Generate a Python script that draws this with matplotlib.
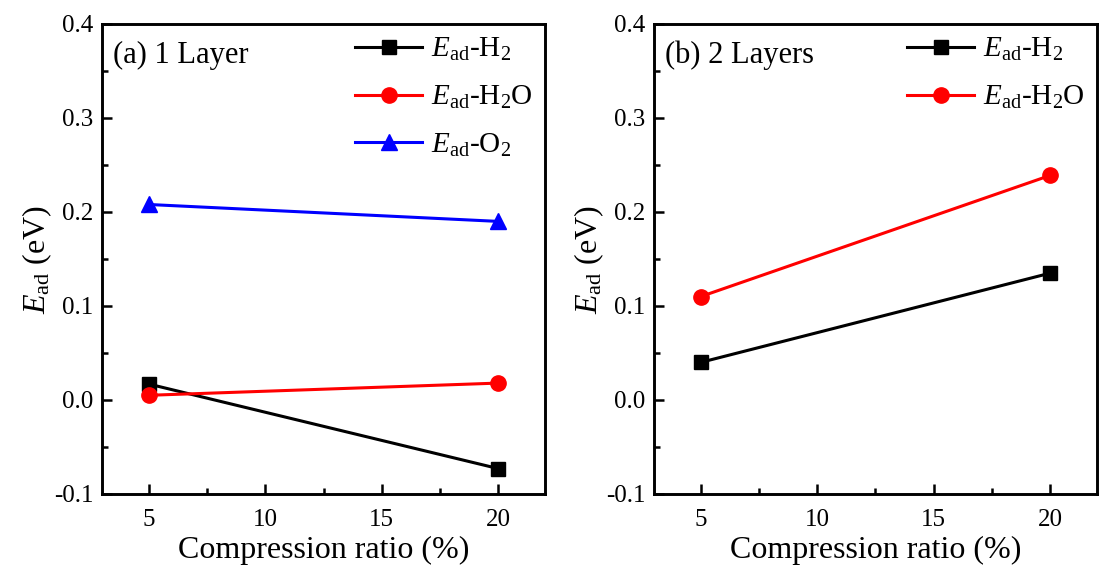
import numpy as np
import matplotlib
matplotlib.use("Agg")
import matplotlib.pyplot as plt
from matplotlib.ticker import MultipleLocator

plt.rcParams['font.family'] = ['Liberation Serif', 'DejaVu Serif']
plt.rcParams['mathtext.fontset'] = 'custom'
plt.rcParams['mathtext.rm'] = 'Liberation Serif'
plt.rcParams['mathtext.it'] = 'Liberation Serif:italic'

# data
ratio = [5, 20]
a_h2 = [0.017, -0.073]
a_h2o = [0.005, 0.018]
a_o2 = [0.208, 0.190]
b_h2 = [0.040, 0.135]
b_h2o = [0.110, 0.239]

lab_h2 = r'$E_{\mathrm{ad}}$-H$_2$'
lab_h2o = r'$E_{\mathrm{ad}}$-H$_2$O'
lab_o2 = r'$E_{\mathrm{ad}}$-O$_2$'

W, H = 1099, 568
fig = plt.figure(figsize=(W / 100, H / 100), dpi=100)
ax1 = fig.add_axes([102 / W, 1 - 494 / H, 443 / W, 470 / H])
ax2 = fig.add_axes([654 / W, 1 - 494 / H, 443 / W, 470 / H])

ax1.plot(ratio, a_h2, color='black', marker='s', ms=10, lw=2.2, label=lab_h2)
ax1.plot(ratio, a_h2o, color='red', marker='o', ms=11, lw=2.2, label=lab_h2o)
ax1.plot(ratio, a_o2, color='blue', marker='^', ms=11, lw=2.2, label=lab_o2)

ax2.plot(ratio, b_h2, color='black', marker='s', ms=10, lw=2.2, label=lab_h2)
ax2.plot(ratio, b_h2o, color='red', marker='o', ms=11, lw=2.2, label=lab_h2o)

for ax, title in [(ax1, '(a) 1 Layer'), (ax2, '(b) 2 Layers')]:
    ax.set_xlim(3, 22)
    ax.set_ylim(-0.1, 0.4)
    ax.xaxis.set_minor_locator(MultipleLocator(2.5))
    ax.yaxis.set_minor_locator(MultipleLocator(0.05))
    ax.set_xticks([5, 10, 15, 20])
    ax.set_yticks([-0.1, 0.0, 0.1, 0.2, 0.3, 0.4])
    ax.set_yticklabels(['-0.1', '0.0', '0.1', '0.2', '0.3', '0.4'])
    ax.tick_params(which='major', direction='in', length=7, width=1.8, labelsize=18)
    ax.tick_params(axis='y', pad=6)
    ax.tick_params(axis='x', pad=11)
    ax.tick_params(which='minor', direction='in', length=4, width=1.8)
    for sp in ax.spines.values():
        sp.set_linewidth(2.1)
    ax.set_xlabel('Compression ratio (%)', fontsize=23, labelpad=3)
    ax.set_ylabel(r'$E_{\mathrm{ad}}$ (eV)', fontsize=23, labelpad=0)
    ax.text(0.025, 0.965, title, transform=ax.transAxes, fontsize=22, va='top', ha='left')
    ax.legend(loc='upper right', fontsize=21, frameon=False, handlelength=2.3,
              borderaxespad=0.22, borderpad=0.2, labelspacing=0.7, handletextpad=0.3)

fig.savefig('out.png', dpi=100)
